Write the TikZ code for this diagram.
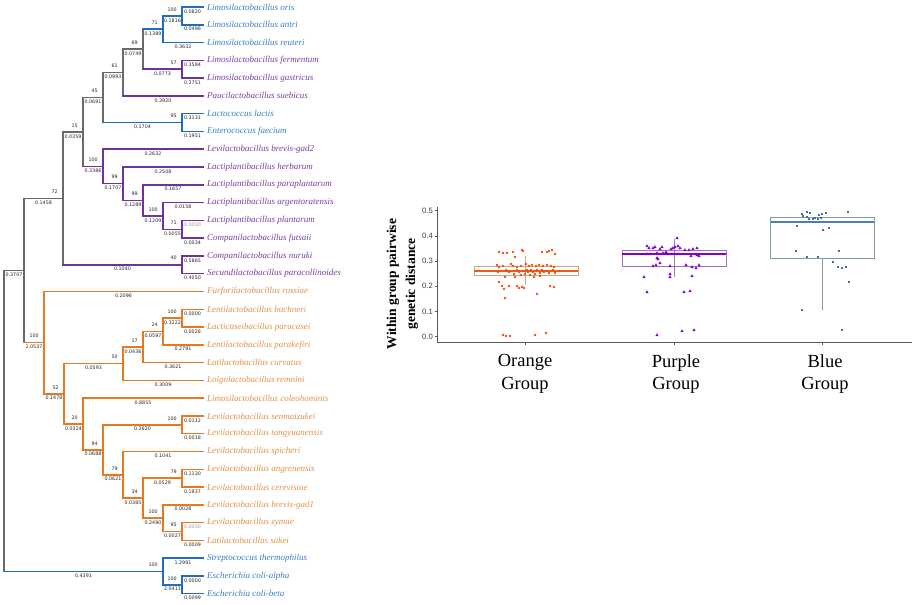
\documentclass[tikz,border=0pt]{standalone}
\usepackage{fontspec}
\setmainfont{Liberation Serif}
\newfontfamily\brfont{DejaVu Sans}
\newfontfamily\axfont{Liberation Sans}

\definecolor{treeblue}{RGB}{30,110,190}
\definecolor{txtblue}{RGB}{55,125,200}
\definecolor{treepurple}{RGB}{112,48,160}
\definecolor{txtpurple}{RGB}{118,62,160}
\definecolor{treeorange}{RGB}{232,120,30}
\definecolor{txtorange}{RGB}{226,145,70}
\definecolor{treegrey}{RGB}{105,105,105}
\definecolor{dotorange}{RGB}{232,80,10}
\definecolor{boxorange}{RGB}{205,165,125}
\definecolor{medorange}{RGB}{235,90,30}
\definecolor{dotpurple}{RGB}{130,0,210}
\definecolor{boxpurple}{RGB}{165,115,185}
\definecolor{medpurple}{RGB}{130,0,200}
\definecolor{dotblue}{RGB}{65,110,175}
\definecolor{boxblue}{RGB}{125,155,170}
\definecolor{medblue}{RGB}{75,125,185}

\tikzset{
  gry/.style={draw=treegrey, line width=1.5pt, line cap=rect},
  blu/.style={draw=treeblue, line width=1.5pt, line cap=rect},
  pur/.style={draw=treepurple, line width=1.5pt, line cap=rect},
  org/.style={draw=treeorange, line width=1.5pt, line cap=rect},
  leaf/.style={anchor=west, inner xsep=4pt, inner ysep=0pt, font=\fontsize{9}{10}\selectfont\itshape},
  blen/.style={midway, below, inner sep=1.8pt, text=black!85, font=\brfont\fontsize{4.8}{5}\selectfont},
  boot/.style={at end, anchor=south east, inner sep=0pt, xshift=-4.5pt, yshift=4pt, text=black!85, font=\brfont\fontsize{4.8}{5}\selectfont},
  zero/.style={text=black!40},
  axis/.style={draw=black!65, line width=0.8pt},
}

\begin{document}
\begin{tikzpicture}[x=1pt, y=-1pt]
\useasboundingbox (0,0) rectangle (913,605);

\begin{scope}[y=-17.78pt, yshift=-7pt]
% Manual node positions
\node[leaf, text=txtblue] (oris) at (203,0) {Limosilactobacillus oris};
\node[leaf, text=txtblue] (antri) at (203,1) {Limosilactobacillus antri};
\node[leaf, text=txtblue] (reuteri) at (203,2) {Limosilactobacillus reuteri};
\node[leaf, text=txtpurple] (ferm) at (203,3) {Limosilactobacillus fermentum};
\node[leaf, text=txtpurple] (gast) at (203,4) {Limosilactobacillus gastricus};
\node[leaf, text=txtpurple] (sueb) at (203,5) {Paucilactobacillus suebicus};
\node[leaf, text=txtblue] (lactis) at (203,6) {Lactococcus lactis};
\node[leaf, text=txtblue] (faec) at (203,7) {Enterococcus faecium};
\node[leaf, text=txtpurple] (brev2) at (203,8) {Levilactobacillus brevis-gad2};
\node[leaf, text=txtpurple] (herb) at (203,9) {Lactiplantibacillus herbarum};
\node[leaf, text=txtpurple] (parapl) at (203,10) {Lactiplantibacillus paraplantarum};
\node[leaf, text=txtpurple] (argent) at (203,11) {Lactiplantibacillus argentoratensis};
\node[leaf, text=txtpurple] (plant) at (203,12) {Lactiplantibacillus plantarum};
\node[leaf, text=txtpurple] (futs) at (203,13) {Companilactobacillus futsaii};
\node[leaf, text=txtpurple] (nuruki) at (203,14) {Companilactobacillus nuruki};
\node[leaf, text=txtpurple] (paracol) at (203,15) {Secundilactobacillus paracollinoides};
\node[leaf, text=txtorange] (ross) at (203,16) {Furfurilactobacillus rossiae};
\node[leaf, text=txtorange] (buch) at (203,17) {Lentilactobacillus buchneri};
\node[leaf, text=txtorange] (paracas) at (203,18) {Lacticaseibacillus paracasei};
\node[leaf, text=txtorange] (parakef) at (203,19) {Lentilactobacillus parakefiri};
\node[leaf, text=txtorange] (curv) at (203,20) {Latilactobacillus curvatus};
\node[leaf, text=txtorange] (remn) at (203,21) {Loigolactobacillus remnini};
\node[leaf, text=txtorange] (coleo) at (203,22) {Limosilactobacillus coleohominis};
\node[leaf, text=txtorange] (senm) at (203,23) {Levilactobacillus senmaizukei};
\node[leaf, text=txtorange] (tangy) at (203,24) {Levilactobacillus tangyuanensis};
\node[leaf, text=txtorange] (spich) at (203,25) {Levilactobacillus spicheri};
\node[leaf, text=txtorange] (angr) at (203,26) {Levilactobacillus angrenensis};
\node[leaf, text=txtorange] (cerev) at (203,27) {Levilactobacillus cerevisiae};
\node[leaf, text=txtorange] (brev1) at (203,28) {Levilactobacillus brevis-gad1};
\node[leaf, text=txtorange] (zymae) at (203,29) {Levilactobacillus zymae};
\node[leaf, text=txtorange] (sakei) at (203,30) {Latilactobacillus sakei};
\node[leaf, text=txtblue] (strep) at (203,31) {Streptococcus thermophilus};
\node[leaf, text=txtblue] (colia) at (203,32) {Escherichia coli-alpha};
\node[leaf, text=txtblue] (colib) at (203,33) {Escherichia coli-beta};

% Internal nodes
\coordinate (oa) at (182,0.5);
\coordinate (oar) at (163,1.25);
\coordinate (fg) at (182,3.5);
\coordinate (lim) at (143,2.375);
\coordinate (limp) at (123,3.6875);
\coordinate (lf) at (182,6.5);
\coordinate (top1) at (103,5.094);
\coordinate (pc) at (182,12.5);
\coordinate (pca) at (163,11.75);
\coordinate (pcap) at (143,10.875);
\coordinate (pcaph) at (123,9.9375);
\coordinate (purp) at (103,8.969);
\coordinate (top2) at (83,7.031);
\coordinate (np) at (182,14.5);
\coordinate (top3) at (63,10.766);
\coordinate (bp) at (182,17.5);
\coordinate (bpk) at (163,18.25);
\coordinate (bpkc) at (143,19.125);
\coordinate (bpkcr) at (123,20.0625);
\coordinate (st) at (182,23.5);
\coordinate (ac) at (182,26.5);
\coordinate (zs) at (182,29.5);
\coordinate (bzs) at (163,28.75);
\coordinate (acb) at (143,27.625);
\coordinate (spac) at (123,26.3125);
\coordinate (lev) at (103,24.906);
\coordinate (colev) at (83,23.453);
\coordinate (or2) at (64,21.758);
\coordinate (orng) at (44,18.879);
\coordinate (top4) at (24,14.82);
\coordinate (ec) at (182,32.5);
\coordinate (out) at (163,31.75);
\coordinate (root) at (4,23.285);

% Connections: blue Limosilactobacillus
\draw[blu] (oa |- oris) -- (oa |- antri);
\draw[blu] (oa |- oris) -- (oris.west) node[blen] {0.0820};
\draw[blu] (oa |- antri) -- (antri.west) node[blen] {0.0496};
\draw[blu] (oar |- oa) -- (oar |- reuteri);
\draw[blu] (oar |- oa) -- (oa) node[blen] {0.1816} node[boot] {100};
\draw[blu] (oar |- reuteri) -- (reuteri.west) node[blen] {0.3632};
% purple fermentum / gastricus
\draw[pur] (fg |- ferm) -- (fg |- gast);
\draw[pur] (fg |- ferm) -- (ferm.west) node[blen] {0.3584};
\draw[pur] (fg |- gast) -- (gast.west) node[blen] {0.2751};
\draw[gry] (lim |- oar) -- (lim |- fg);
\draw[blu] (lim |- oar) -- (oar) node[blen] {0.1389} node[boot] {71};
\draw[pur] (lim |- fg) -- (fg) node[blen] {0.0773} node[boot] {57};
\draw[gry] (limp |- lim) -- (limp |- sueb);
\draw[gry] (limp |- lim) -- (lim) node[blen] {0.0749} node[boot] {69};
\draw[pur] (limp |- sueb) -- (sueb.west) node[blen] {0.3920};
% blue lactis / faecium
\draw[blu] (lf |- lactis) -- (lf |- faec);
\draw[blu] (lf |- lactis) -- (lactis.west) node[blen] {0.3131};
\draw[blu] (lf |- faec) -- (faec.west) node[blen] {0.1951};
\draw[gry] (top1 |- limp) -- (top1 |- lf);
\draw[gry] (top1 |- limp) -- (limp) node[blen] {0.0993} node[boot] {61};
\draw[blu] (top1 |- lf) -- (lf) node[blen] {0.1704} node[boot] {95};
% purple Lactiplantibacillus clade
\draw[pur] (pc |- plant) -- (pc |- futs);
\draw[pur] (pc |- plant) -- (plant.west) node[blen, zero] {0.0000};
\draw[pur] (pc |- futs) -- (futs.west) node[blen] {0.0034};
\draw[pur] (pca |- argent) -- (pca |- pc);
\draw[pur] (pca |- argent) -- (argent.west) node[blen] {0.0158};
\draw[pur] (pca |- pc) -- (pc) node[blen] {0.0055} node[boot] {71};
\draw[pur] (pcap |- parapl) -- (pcap |- pca);
\draw[pur] (pcap |- parapl) -- (parapl.west) node[blen] {0.1657};
\draw[pur] (pcap |- pca) -- (pca) node[blen] {0.1209} node[boot] {100};
\draw[pur] (pcaph |- herb) -- (pcaph |- pcap);
\draw[pur] (pcaph |- herb) -- (herb.west) node[blen] {0.2508};
\draw[pur] (pcaph |- pcap) -- (pcap) node[blen] {0.1289} node[boot] {99};
\draw[pur] (purp |- brev2) -- (purp |- pcaph);
\draw[pur] (purp |- brev2) -- (brev2.west) node[blen] {0.2632};
\draw[pur] (purp |- pcaph) -- (pcaph) node[blen] {0.1707} node[boot] {99};
\draw[gry] (top2 |- top1) -- (top2 |- purp);
\draw[gry] (top2 |- top1) -- (top1) node[blen] {0.0691} node[boot] {45};
\draw[pur] (top2 |- purp) -- (purp) node[blen] {0.3386} node[boot] {100};
% purple nuruki / paracollinoides
\draw[pur] (np |- nuruki) -- (np |- paracol);
\draw[pur] (np |- nuruki) -- (nuruki.west) node[blen] {0.5865};
\draw[pur] (np |- paracol) -- (paracol.west) node[blen] {0.4050};
\draw[gry] (top3 |- top2) -- (top3 |- np);
\draw[gry] (top3 |- top2) -- (top2) node[blen] {0.0359} node[boot] {15};
\draw[pur] (top3 |- np) -- (np) node[blen] {0.1040} node[boot] {40};
% orange group
\draw[org] (bp |- buch) -- (bp |- paracas);
\draw[org] (bp |- buch) -- (buch.west) node[blen] {0.0000};
\draw[org] (bp |- paracas) -- (paracas.west) node[blen] {0.0028};
\draw[org] (bpk |- bp) -- (bpk |- parakef);
\draw[org] (bpk |- bp) -- (bp) node[blen] {0.3222} node[boot] {100};
\draw[org] (bpk |- parakef) -- (parakef.west) node[blen] {0.2791};
\draw[org] (bpkc |- bpk) -- (bpkc |- curv);
\draw[org] (bpkc |- bpk) -- (bpk) node[blen] {0.0597} node[boot] {24};
\draw[org] (bpkc |- curv) -- (curv.west) node[blen] {0.3621};
\draw[org] (bpkcr |- bpkc) -- (bpkcr |- remn);
\draw[org] (bpkcr |- bpkc) -- (bpkc) node[blen] {0.0436} node[boot] {17};
\draw[org] (bpkcr |- remn) -- (remn.west) node[blen] {0.3009};
\draw[org] (st |- senm) -- (st |- tangy);
\draw[org] (st |- senm) -- (senm.west) node[blen] {0.0112};
\draw[org] (st |- tangy) -- (tangy.west) node[blen] {0.0018};
\draw[org] (ac |- angr) -- (ac |- cerev);
\draw[org] (ac |- angr) -- (angr.west) node[blen] {0.1130};
\draw[org] (ac |- cerev) -- (cerev.west) node[blen] {0.1937};
\draw[org] (zs |- zymae) -- (zs |- sakei);
\draw[org] (zs |- zymae) -- (zymae.west) node[blen, zero] {0.0000};
\draw[org] (zs |- sakei) -- (sakei.west) node[blen] {0.0009};
\draw[org] (bzs |- brev1) -- (bzs |- zs);
\draw[org] (bzs |- brev1) -- (brev1.west) node[blen] {0.0028};
\draw[org] (bzs |- zs) -- (zs) node[blen] {0.0027} node[boot] {95};
\draw[org] (acb |- ac) -- (acb |- bzs);
\draw[org] (acb |- ac) -- (ac) node[blen] {0.0529} node[boot] {79};
\draw[org] (acb |- bzs) -- (bzs) node[blen] {0.2490} node[boot] {100};
\draw[org] (spac |- spich) -- (spac |- acb);
\draw[org] (spac |- spich) -- (spich.west) node[blen] {0.1041};
\draw[org] (spac |- acb) -- (acb) node[blen] {0.0385} node[boot] {34};
\draw[org] (lev |- st) -- (lev |- spac);
\draw[org] (lev |- st) -- (st) node[blen] {0.2620} node[boot] {100};
\draw[org] (lev |- spac) -- (spac) node[blen] {0.0621} node[boot] {79};
\draw[org] (colev |- coleo) -- (colev |- lev);
\draw[org] (colev |- coleo) -- (coleo.west) node[blen] {0.8855};
\draw[org] (colev |- lev) -- (lev) node[blen] {0.0688} node[boot] {94};
\draw[org] (or2 |- bpkcr) -- (or2 |- colev);
\draw[org] (or2 |- bpkcr) -- (bpkcr) node[blen] {0.0593} node[boot] {50};
\draw[org] (or2 |- colev) -- (colev) node[blen] {0.0324} node[boot] {20};
\draw[org] (orng |- ross) -- (orng |- or2);
\draw[org] (orng |- ross) -- (ross.west) node[blen] {0.2096};
\draw[org] (orng |- or2) -- (or2) node[blen] {0.1478} node[boot] {52};
\draw[gry] (top4 |- top3) -- (top4 |- orng);
\draw[gry] (top4 |- top3) -- (top3) node[blen] {0.1458} node[boot] {72};
\draw[org] (top4 |- orng) -- (orng) node[blen] {1.0537} node[boot] {100};
% blue outgroup
\draw[blu] (ec |- colia) -- (ec |- colib);
\draw[blu] (ec |- colia) -- (colia.west) node[blen] {0.0000};
\draw[blu] (ec |- colib) -- (colib.west) node[blen] {0.0099};
\draw[blu] (out |- strep) -- (out |- ec);
\draw[blu] (out |- strep) -- (strep.west) node[blen] {1.2991};
\draw[blu] (out |- ec) -- (ec) node[blen] {2.0411} node[boot] {100};
\draw[gry] (root |- top4) -- (root |- out);
\draw[gry] (root |- top4) -- (top4) node[blen] {0.3707};
\draw[blu] (root |- out) -- (out) node[blen] {0.4391} node[boot] {100};
\end{scope}

% Box plot
\draw[axis] (437.7,207) -- (437.7,342) -- (912,342);
\foreach \t [count=\i from 0] in {0.0,0.1,0.2,0.3,0.4,0.5}{
  \draw[axis] (434.5,336.7-25.2*\i) -- (437.7,336.7-25.2*\i);
  \node[anchor=east, inner sep=0pt, text=black!75, font=\axfont\fontsize{7.7}{8}\selectfont] at (433,336.7-25.2*\i) {\t};
}
\foreach \gx in {525.7,674,822}
  \draw[axis] (\gx,342) -- (\gx,345);
\node[rotate=90, align=center, font=\bfseries\fontsize{13.5}{19}\selectfont] at (402.5,284) {Within group pairwise\\genetic distance};
\node[align=center, font=\fontsize{18.5}{22.7}\selectfont] at (525,374) {Orange\\Group};
\node[align=center, font=\fontsize{18.5}{22.7}\selectfont] at (676,374) {Purple\\Group};
\node[align=center, font=\fontsize{18.5}{22.7}\selectfont] at (825,374) {Blue\\Group};

% orange box
\draw[boxorange, line width=0.8pt] (525.5,256) -- (525.5,285);
\draw[boxorange, line width=0.8pt] (474,266) rectangle (578,275);
\draw[medorange, line width=1.1pt] (474,271) -- (578,271);
\foreach \x/\y in {499/252,503/253,507/253,513/252,515/257,522/250,523/251,542/252,549/251,552/250,555/254,547/252,
  497/265,499/267,503/266,511/264,513/266,517/267,521/266,526/264,529/266,532/265,536/266,539/265,543/266,547/265,551/266,554/267,
  506/270,517/270,519/272,523/271,525/274,527/270,528/272,531/270,533/272,535/274,537/270,540/273,542/270,544/272,547/271,549/273,553/270,555/273,
  498/272,514/274,509/272,521/275,530/275,540/276,505/277,534/277,515/277,
  499/282,502/286,504/289,517/286,519/288,522/287,524/288,550/286,554/287,537/294,505/298,509/286,
  503/335,506/336,510/336,535/335,546/333}
  \fill[dotorange] (\x,\y) circle (1.4pt);

% purple box
\draw[boxpurple, line width=0.8pt] (674,239) -- (674,277);
\draw[boxpurple, line width=0.8pt] (622,250) rectangle (726,266);
\draw[medpurple, line width=1.1pt] (622,254) -- (726,254);
\foreach \x/\y in {677/238,647/246,649/248,653/248,655/247,660/249,662/247,666/252,671/249,673/248,675/247,678/246,680/248,685/250,689/250,693/249,697/248,
  657/253,663/253,668/254,678/254,691/256,697/255,699/256,647/254,650/254,672/254,
  657/258,658/259,660/263,653/266,656/265,670/266,686/265,692/267,696/268,699/265,670/274,670/277,644/277,692/276,
  647/292,684/292,690/291,657/335,682/331,694/330}
  \fill[dotpurple] (\x,\y) ++(0,-1.8) -- ++(1.6,2.8) -- ++(-3.2,0) -- cycle;

% blue box
\draw[boxblue, line width=0.8pt] (822,258) -- (822,310);
\draw[boxblue, line width=0.8pt] (770.7,217) rectangle (874,258);
\draw[medblue, line width=1.1pt] (770.7,222) -- (874,222);
\foreach \x/\y in {802/214,807/212,810/213,803/216,807/217,809/219,815/218,818/219,821/218,822/214,826/213,848/212,813/219,819/215,
  797/226,823/230,829/228,796/251,839/251,807/257,818/257,833/262,838/267,842/268,846/267,849/282,802/310,842/330}
  \fill[dotblue] (\x-1.4,\y-1.4) rectangle ++(2.8,2.8);
\end{tikzpicture}
\end{document}
